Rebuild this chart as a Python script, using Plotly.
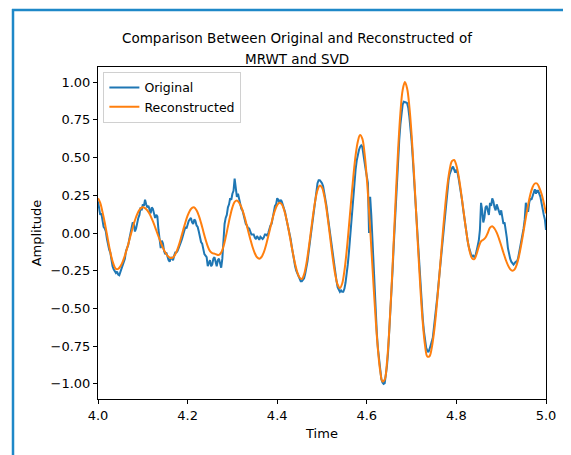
import numpy as np
import plotly.graph_objects as go

# Time grid (s), 0.005 s spacing from 4.0 to 5.0
time = np.round(np.linspace(4.0, 5.0, 201), 4)
# half-step times for the extra Original samples (4.0025 ... 4.9975)
time_between = np.round(time[:-1] + 0.0025, 4)

original = [
    0.21, 0.12, 0.08, 0.03, -0.04, -0.11, -0.18, -0.24, -0.265, -0.275,
    -0.26, -0.21, -0.17, -0.10, -0.04, 0.02, 0.06, 0.03, 0.10, 0.17,
    0.19, 0.22, 0.17, 0.15, 0.17, 0.13, 0.12, 0.02, -0.10, -0.07,
    -0.14, -0.16, -0.19, -0.17, -0.15, -0.13, -0.10, -0.06, -0.01, 0.04,
    0.06, 0.09, 0.07, 0.09, 0.05, 0.01, -0.06, -0.11, -0.15, -0.22,
    -0.18, -0.21, -0.16, -0.22, -0.17, -0.23, -0.02, 0.10, 0.17, 0.23,
    0.26, 0.36, 0.24, 0.23, 0.16, 0.12, 0.06, 0.03, 0.01, -0.01,
    -0.03, -0.02, -0.045, -0.03, -0.03, -0.01, 0.00, 0.05, 0.09, 0.18,
    0.23, 0.20, 0.21, 0.16, 0.10, 0.04, -0.04, -0.14, -0.22, -0.27,
    -0.31, -0.32, -0.30, -0.24, -0.13, -0.01, 0.12, 0.25, 0.33, 0.35,
    0.33, 0.27, 0.18, 0.06, -0.05, -0.15, -0.27, -0.36, -0.39, -0.39,
    -0.37, -0.28, -0.13, 0.08, 0.26, 0.42, 0.52, 0.57, 0.57, 0.47,
    0.36, 0.00, 0.12, -0.25, -0.55, -0.77, -0.92, -0.99, -0.995, -0.88,
    -0.67, -0.40, -0.09, 0.22, 0.50, 0.72, 0.85, 0.87, 0.86, 0.77,
    0.61, 0.38, 0.12, -0.14, -0.38, -0.57, -0.71, -0.78, -0.77, -0.72,
    -0.63, -0.50, -0.34, -0.17, 0.00, 0.16, 0.29, 0.39, 0.43, 0.41,
    0.42, 0.36, 0.27, 0.16, 0.05, -0.05, -0.12, -0.155, -0.16, -0.12,
    -0.05, 0.20, 0.07, 0.17, 0.14, 0.20, 0.23, 0.17, 0.19, 0.14,
    0.15, 0.06, 0.03, -0.10, -0.17, -0.20, -0.20, -0.19, -0.13, -0.06,
    0.03, 0.20, 0.14, 0.23, 0.25, 0.29, 0.28, 0.26, 0.20, 0.12,
    0.02,
]

original_between = [
    0.17, 0.13, 0.04, 0.01, -0.09, -0.13, -0.22, -0.25, -0.255, -0.28,
    -0.24, -0.20, -0.12, -0.08, 0.00, 0.07, 0.01, 0.08, 0.12, 0.15,
    0.18, 0.19, 0.18, 0.13, 0.16, 0.10, 0.11, -0.06, -0.05, -0.12,
    -0.13, -0.18, -0.16, -0.18, -0.13, -0.12, -0.07, -0.04, 0.03, 0.03,
    0.08, 0.10, 0.06, 0.08, 0.04, -0.04, -0.07, -0.14, -0.16, -0.19,
    -0.22, -0.17, -0.19, -0.18, -0.20, -0.17, 0.06, 0.12, 0.19, 0.22,
    0.28, 0.30, 0.26, 0.18, 0.15, 0.08, 0.05, 0.03, -0.01, -0.01,
    -0.04, -0.03, -0.025, -0.04, -0.01, -0.02, 0.03, 0.06, 0.14, 0.19,
    0.22, 0.22, 0.19, 0.14, 0.07, 0.00, -0.09, -0.18, -0.25, -0.29,
    -0.32, -0.31, -0.27, -0.19, -0.07, 0.05, 0.19, 0.29, 0.35, 0.34,
    0.31, 0.23, 0.12, 0.00, -0.10, -0.21, -0.32, -0.38, -0.38, -0.39,
    -0.33, -0.21, -0.03, 0.17, 0.34, 0.48, 0.55, 0.58, 0.53, 0.42,
    0.33, 0.24, -0.06, -0.40, -0.67, -0.85, -0.97, -1.00, -0.95, -0.79,
    -0.54, -0.25, 0.07, 0.37, 0.62, 0.80, 0.87, 0.865, 0.83, 0.70,
    0.50, 0.25, -0.01, -0.26, -0.48, -0.65, -0.76, -0.79, -0.75, -0.69,
    -0.57, -0.42, -0.26, -0.08, 0.08, 0.23, 0.35, 0.42, 0.44, 0.40,
    0.40, 0.32, 0.22, 0.10, 0.00, -0.09, -0.14, -0.15, -0.15, -0.09,
    0.02, 0.15, 0.10, 0.18, 0.12, 0.18, 0.21, 0.15, 0.17, 0.12,
    0.10, 0.07, -0.03, -0.14, -0.19, -0.21, -0.19, -0.17, -0.09, -0.02,
    0.09, 0.17, 0.20, 0.22, 0.28, 0.26, 0.28, 0.24, 0.15, 0.09,
]

reconstructed = [
    0.23, 0.20, 0.14, 0.07, -0.01, -0.09, -0.16, -0.21, -0.238, -0.238,
    -0.221, -0.191, -0.15, -0.10, -0.046, 0.009, 0.061, 0.106, 0.141, 0.163,
    0.17, 0.165, 0.150, 0.127, 0.095, 0.059, 0.018, -0.023, -0.062, -0.098,
    -0.128, -0.150, -0.163, -0.166, -0.154, -0.126, -0.085, -0.035, 0.018, 0.070,
    0.115, 0.148, 0.167, 0.169, 0.150, 0.115, 0.067, 0.012, -0.042, -0.088,
    -0.120, -0.133, -0.137, -0.143, -0.145, -0.13, -0.09, -0.029, 0.042, 0.112,
    0.170, 0.206, 0.215, 0.202, 0.172, 0.129, 0.075, 0.016, -0.041, -0.093,
    -0.134, -0.161, -0.17, -0.159, -0.129, -0.081, -0.022, 0.040, 0.100, 0.150,
    0.185, 0.20, 0.191, 0.157, 0.101, 0.028, -0.053, -0.133, -0.206, -0.262,
    -0.296, -0.305, -0.274, -0.206, -0.108, 0.005, 0.118, 0.216, 0.284, 0.314,
    0.301, 0.247, 0.159, 0.047, -0.073, -0.188, -0.282, -0.343, -0.365, -0.336,
    -0.251, -0.121, 0.040, 0.212, 0.376, 0.514, 0.607, 0.649, 0.625, 0.527,
    0.363, 0.150, -0.095, -0.345, -0.580, -0.777, -0.915, -0.984, -0.971, -0.857,
    -0.650, -0.376, -0.060, 0.263, 0.558, 0.795, 0.947, 1.00, 0.958, 0.838,
    0.651, 0.412, 0.142, -0.131, -0.385, -0.596, -0.744, -0.818, -0.816, -0.760,
    -0.659, -0.518, -0.351, -0.170, 0.011, 0.179, 0.319, 0.420, 0.476, 0.484,
    0.447, 0.376, 0.278, 0.166, 0.053, -0.048, -0.126, -0.168, -0.173, -0.14,
    -0.09, -0.055, -0.045, -0.03, 0.0, 0.035, 0.045, 0.030, 0.002, -0.037,
    -0.083, -0.131, -0.176, -0.213, -0.239, -0.25, -0.241, -0.206, -0.149, -0.073,
    0.013, 0.102, 0.185, 0.255, 0.303, 0.328, 0.328, 0.30, 0.26, 0.20,
    0.13,
]

assert len(original) == len(time) and len(reconstructed) == len(time)
assert len(original_between) == len(time_between)

x_ticks = [4.0, 4.2, 4.4, 4.6, 4.8, 5.0]
y_ticks = [-1.0, -0.75, -0.5, -0.25, 0.0, 0.25, 0.5, 0.75, 1.0]

# merge the two Original sample sets in time order
orig_t = np.empty(len(time) + len(time_between))
orig_v = np.empty_like(orig_t)
orig_t[0::2] = time
orig_t[1::2] = time_between
orig_v[0::2] = original
orig_v[1::2] = original_between

FONT = "DejaVu Sans"

fig = go.Figure()
fig.add_trace(go.Scatter(x=orig_t, y=orig_v, mode="lines", name="Original",
                         line=dict(color="#1f77b4", width=2)))
fig.add_trace(go.Scatter(x=time, y=reconstructed, mode="lines", name="Reconstructed",
                         line=dict(color="#ff7f0e", width=2, shape="spline")))

# page is offset by the 8px body margin
OFF = 8
W, H = 571 - OFF, 455 - OFF
L, T = 98 - OFF, 67 - OFF
R = W - (546 - OFF)
B = H - (399 - OFF)
pw, ph = W - L - R, H - T - B

def px_x(p):  # page pixel -> paper
    return (p - OFF - L) / pw

def px_y(p):
    return (H - B - (p - OFF)) / ph

axis_common = dict(
    showline=True, linecolor="black", linewidth=1, mirror=True,
    ticks="outside", ticklen=4, tickcolor="black", tickwidth=1,
    showgrid=False, zeroline=False,
    tickfont=dict(family=FONT, size=13, color="black"),
)

fig.update_layout(
    width=W, height=H,
    margin=dict(l=L, r=R, t=T, b=B),
    paper_bgcolor="white", plot_bgcolor="white",
    font=dict(family=FONT, color="black"),
    showlegend=True,
    legend=dict(x=0.012, y=0.985, xanchor="left", yanchor="top",
                bgcolor="rgba(255,255,255,0.8)", bordercolor="#d0d0d0", borderwidth=1,
                font=dict(family=FONT, size=12.5, color="black"),
                tracegroupgap=0, itemwidth=30),
    xaxis=dict(range=[4.0, 5.0], tickvals=x_ticks, tickformat=".1f",
               title=dict(text="Time", font=dict(family=FONT, size=13), standoff=7),
               **axis_common),
    yaxis=dict(range=[-1.1, 1.1], tickvals=y_ticks, tickformat=".2f",
               title=dict(text="Amplitude", font=dict(family=FONT, size=13), standoff=6),
               **axis_common),
    annotations=[
        dict(text="Comparison Between Original and Reconstructed of", xref="paper", yref="paper",
             x=px_x(297), y=px_y(37.5), xanchor="center", yanchor="middle", showarrow=False,
             font=dict(family=FONT, size=13.5, color="black")),
        dict(text="MRWT and SVD", xref="paper", yref="paper",
             x=px_x(297), y=px_y(59.5), xanchor="center", yanchor="middle", showarrow=False,
             font=dict(family=FONT, size=13.5, color="black")),
    ],
    shapes=[
        dict(type="line", xref="paper", yref="paper", x0=px_x(13), x1=px_x(13),
             y0=px_y(9), y1=px_y(470), line=dict(color="#1e88c8", width=2.5)),
        dict(type="line", xref="paper", yref="paper", x0=px_x(12), x1=px_x(580),
             y0=px_y(10), y1=px_y(10), line=dict(color="#1e88c8", width=2.5)),
    ],
)

fig.write_html("out.html")
